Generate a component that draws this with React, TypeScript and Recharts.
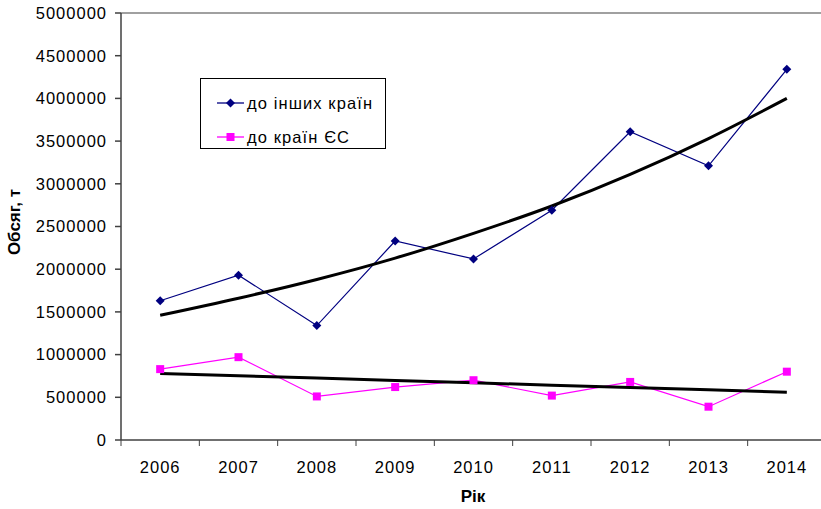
import React from 'react';
import { LineChart, Line, XAxis, YAxis, Legend, ReferenceLine } from 'recharts';

const years = ['2006', '2007', '2008', '2009', '2010', '2011', '2012', '2013', '2014'];
const otherCountries = [1630000, 1930000, 1340000, 2330000, 2120000, 2690000, 3610000, 3210000, 4340000];
const euCountries = [830000, 970000, 510000, 620000, 700000, 520000, 680000, 390000, 800000];
// trend lines (exponential for others, linear for EU)
const otherTrend = [1460000, 1660000, 1880000, 2130000, 2420000, 2740000, 3110000, 3530000, 4000000];
const euTrend = [780000, 752000, 725000, 697000, 670000, 642000, 615000, 588000, 560000];
const yTicks = [0, 500000, 1000000, 1500000, 2000000, 2500000, 3000000, 3500000, 4000000, 4500000, 5000000];

const seriesNames = ['до інших країн', 'до країн ЄС'];

const data = years.map((year, i) => ({
  year,
  other: otherCountries[i],
  eu: euCountries[i],
  otherTrend: otherTrend[i],
  euTrend: euTrend[i],
}));

const FONT = '"Liberation Sans", Arial, sans-serif';
const NAVY = '#000080';
const MAGENTA = '#ff00ff';

const Diamond = (props: any) => {
  const { cx, cy } = props;
  if (cx == null || cy == null) return null;
  const r = 4.5;
  return <polygon points={`${cx},${cy - r} ${cx + r},${cy} ${cx},${cy + r} ${cx - r},${cy}`} fill={NAVY} />;
};

const Square = (props: any) => {
  const { cx, cy } = props;
  if (cx == null || cy == null) return null;
  return <rect x={cx - 4} y={cy - 4} width={8} height={8} fill={MAGENTA} />;
};

const XTick = (props: any) => {
  const { x, y, payload, index, visibleTicksCount, width } = props;
  const half = width && visibleTicksCount ? width / visibleTicksCount / 2 : 39;
  return (
    <g>
      <line x1={x - half} y1={y} x2={x - half} y2={y + 6} stroke="#404040" />
      {index === visibleTicksCount - 1 && <line x1={x + half} y1={y} x2={x + half} y2={y + 6} stroke="#404040" />}
      <text x={x} y={y + 33} textAnchor="middle" fontSize={16.5} letterSpacing={1} fontFamily={FONT} fill="#000">
        {payload.value}
      </text>
    </g>
  );
};

const renderLegend = () => (
  <div
    style={{
      border: '1px solid #000',
      background: '#fff',
      width: 186,
      height: 71,
      boxSizing: 'border-box',
      fontFamily: FONT,
      fontSize: 16.5,
      letterSpacing: 1.1,
      paddingTop: 8,
    }}
  >
    {seriesNames.map((name, i) => (
      <div key={name} style={{ display: 'flex', alignItems: 'center', height: 34, marginTop: i === 0 ? -1 : 0 }}>
        <svg width={44} height={12} style={{ marginLeft: 14 }}>
          <line x1={2} y1={6} x2={29} y2={6} stroke={i === 0 ? NAVY : MAGENTA} strokeWidth={1.3} />
          {i === 0 ? <Diamond cx={15.5} cy={6} /> : <Square cx={15.5} cy={6} />}
        </svg>
        <span style={{ marginLeft: -12 }}>{name}</span>
      </div>
    ))}
  </div>
);

export default function App() {
  return (
    <div style={{ position: 'absolute', left: 0, top: 0, width: 821, height: 509, overflow: 'hidden', background: '#fff' }}>
      <LineChart width={840} height={509} data={data} margin={{ top: 13, right: 14, left: 0, bottom: 0 }}>
        <XAxis
          dataKey="year"
          scale="band"
          height={69}
          stroke="#404040"
          strokeWidth={1.5}
          tickLine={false}
          tickSize={0}
          tickMargin={0}
          tick={<XTick />}
          interval={0}
          label={{
            value: 'Рік',
            content: () => (
              <text x={473} y={502} textAnchor="middle" fontSize={17} fontWeight="bold" fontFamily={FONT} fill="#000">
                Рік
              </text>
            ),
          }}
        />
        <YAxis
          width={121}
          domain={[0, 5000000]}
          ticks={yTicks}
          interval={0}
          stroke="#404040"
          strokeWidth={1.5}
          tickSize={6}
          tickMargin={8}
          tick={{ fontSize: 16.5, letterSpacing: 1, fontFamily: FONT, fill: '#000' }}
          label={{
            value: 'Обсяг, т',
            content: () => (
              <text
                x={20}
                y={222}
                transform="rotate(-90 20 222)"
                textAnchor="middle"
                fontSize={17}
                fontWeight="bold"
                fontFamily={FONT}
                fill="#000"
              >
                Обсяг, т
              </text>
            ),
          }}
        />
        <ReferenceLine y={5000000} stroke="#808080" strokeWidth={1.5} />
        <Legend
          layout="vertical"
          align="center"
          verticalAlign="middle"
          content={renderLegend}
          wrapperStyle={{ position: 'absolute', left: 200, top: 78, width: 186, height: 71 }}
        />
        <Line dataKey="other" name={seriesNames[0]} stroke={NAVY} strokeWidth={1.2} dot={<Diamond />} activeDot={false} isAnimationActive={false} />
        <Line dataKey="eu" name={seriesNames[1]} stroke={MAGENTA} strokeWidth={1.2} dot={<Square />} activeDot={false} isAnimationActive={false} />
        <Line type="monotone" dataKey="otherTrend" stroke="#000" strokeWidth={3} dot={false} activeDot={false} legendType="none" isAnimationActive={false} />
        <Line type="linear" dataKey="euTrend" stroke="#000" strokeWidth={3} dot={false} activeDot={false} legendType="none" isAnimationActive={false} />
      </LineChart>
    </div>
  );
}
